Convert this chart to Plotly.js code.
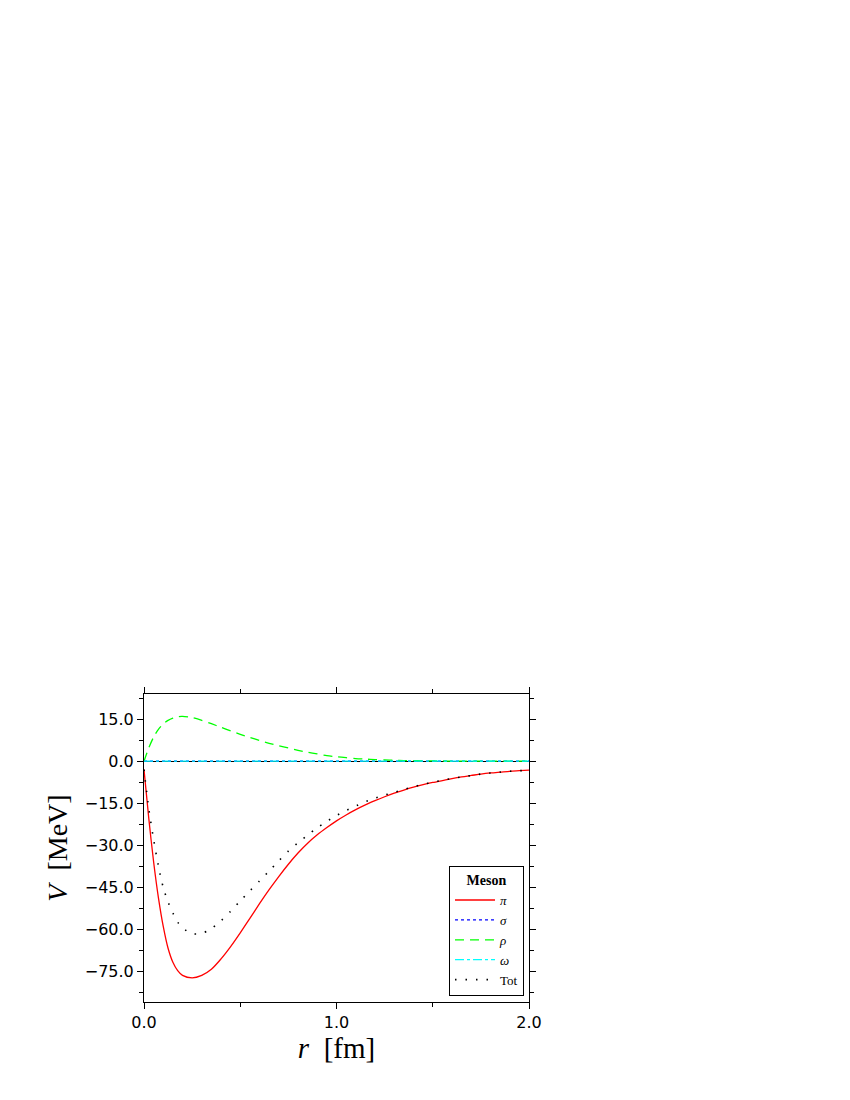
<!DOCTYPE html>
<html>
<head>
<meta charset="utf-8">
<script src="https://cdn.plot.ly/plotly-3.0.1.min.js"></script>
<style>
  body { margin: 0; background: #fff; }
  #plot { width: 850px; height: 1100px; }
</style>
</head>
<body>
<div id="plot"></div>
<script>
// r grid [fm] and potentials [MeV]
let r = [0, 0.025, 0.05, 0.075, 0.1, 0.125, 0.15, 0.175, 0.2,
         0.25, 0.3, 0.35, 0.4, 0.45, 0.5, 0.55, 0.6, 0.65, 0.7, 0.75, 0.8, 0.85, 0.9, 0.95, 1.0,
         1.05, 1.1, 1.15, 1.2, 1.25, 1.3, 1.35, 1.4, 1.45, 1.5, 1.55, 1.6, 1.65, 1.7, 1.75, 1.8,
         1.85, 1.9, 1.95, 2.0];

let vPi = [-3.0, -20.5, -36.0, -48.8, -59.0, -66.8, -71.8, -74.8, -76.5,
           -77.4, -76.5, -74.3, -70.6, -66.2, -61.3, -56.1, -50.9, -45.9, -41.2, -36.8, -32.8, -29.3, -26.3, -23.7, -21.3,
           -19.2, -17.3, -15.6, -14.1, -12.7, -11.4, -10.3, -9.3, -8.4, -7.6, -6.9, -6.2, -5.6, -5.1, -4.6, -4.2,
           -3.9, -3.6, -3.4, -3.2];

let vSigma = [0, 0, 0, 0, 0, 0, 0, 0, 0,
              0, 0, 0, 0, 0, 0, 0, 0, 0, 0, 0, 0, 0, 0, 0, 0,
              0, 0, 0, 0, 0, 0, 0, 0, 0, 0, 0, 0, 0, 0, 0, 0,
              0, 0, 0, 0];

let vRho = [0, 4.8, 8.6, 11.4, 13.3, 14.6, 15.4, 15.9, 16.0,
            15.6, 14.6, 13.4, 12.1, 10.8, 9.6, 8.5, 7.4, 6.4, 5.5, 4.7, 3.9, 3.2, 2.6, 2.0, 1.6,
            1.25, 0.95, 0.75, 0.55, 0.42, 0.32, 0.24, 0.18, 0.13, 0.1, 0.07, 0.05, 0.04, 0.03, 0.02, 0.015,
            0.01, 0.01, 0.005, 0];

let vOmega = [0, 0, 0, 0, 0, 0, 0, 0, 0,
              0, 0, 0, 0, 0, 0, 0, 0, 0, 0, 0, 0, 0, 0, 0, 0,
              0, 0, 0, 0, 0, 0, 0, 0, 0, 0, 0, 0, 0, 0, 0, 0,
              0, 0, 0, 0];

let vTot = [-3.0, -17.0, -28.0, -37.5, -45.1, -50.3, -54.2, -57.5, -59.5,
            -61.6, -61.5, -59.8, -57.0, -53.6, -49.9, -46.3, -42.8, -39.2, -35.6, -32.1, -29.1, -26.4, -23.8, -21.5, -19.4,
            -17.6, -16.0, -14.5, -13.2, -12.1, -11.1, -10.1, -9.1, -8.3, -7.5, -6.8, -6.15, -5.6, -5.1, -4.6, -4.2,
            -3.9, -3.6, -3.4, -3.2];

let names = ['<i>π</i>', '<i>σ</i>', '<i>ρ</i>', '<i>ω</i>', 'Tot'];

let serif = 'Liberation Serif, DejaVu Serif, serif';
let sans = 'DejaVu Sans, Liberation Sans, sans-serif';

let data = [
  { x: r, y: vPi, name: names[0], mode: 'lines',
    line: { color: '#ff0000', width: 1.3, shape: 'spline', smoothing: 0.8 } },
  { x: r, y: vSigma, name: names[1], mode: 'lines',
    line: { color: '#0000ff', width: 1.3, dash: 'dot' } },
  { x: r, y: vRho, name: names[2], mode: 'lines',
    line: { color: '#00ff00', width: 1.3, dash: '9px,6px', shape: 'spline', smoothing: 0.8 } },
  { x: r, y: vOmega, name: names[3], mode: 'lines',
    line: { color: '#00ffff', width: 1.3, dash: 'dashdot' } },
  { x: r, y: vTot, name: names[4], mode: 'lines',
    line: { color: '#000000', width: 1.6, dash: '1.5px,9px', shape: 'spline', smoothing: 0.8 } }
];

let layout = {
  width: 850,
  height: 1100,
  paper_bgcolor: '#fff',
  plot_bgcolor: '#fff',
  margin: { l: 144, r: 321, t: 694, b: 98 },
  showlegend: true,
  legend: {
    x: 0.987, y: 0.02, xanchor: 'right', yanchor: 'bottom',
    bgcolor: '#fff', bordercolor: '#000', borderwidth: 1,
    font: { family: serif, size: 13, color: '#000' },
    title: { text: '<b>Meson</b>', side: 'top center', font: { family: serif, size: 14 } },
    itemwidth: 40,
    tracegroupgap: 0
  },
  xaxis: {
    range: [0, 2], dtick: 1, tickformat: '.1f',
    ticks: 'outside', ticklen: 6, tickcolor: '#000',
    minor: { dtick: 0.5, ticks: 'outside', ticklen: 4, tickcolor: '#000' },
    showline: true, linecolor: '#000', linewidth: 1, mirror: 'ticks',
    showgrid: false, zeroline: false,
    tickfont: { family: sans, size: 16, color: '#000' },
    title: { text: '<i>r</i>\u00a0 [fm]', standoff: 1, font: { family: serif, size: 29, color: '#000' } }
  },
  yaxis: {
    range: [-86, 24], dtick: 15, tickformat: '.1f',
    ticks: 'outside', ticklen: 6, tickcolor: '#000',
    minor: { dtick: 7.5, ticks: 'outside', ticklen: 4, tickcolor: '#000' },
    showline: true, linecolor: '#000', linewidth: 1, mirror: 'ticks',
    showgrid: false, zeroline: true, zerolinecolor: '#000', zerolinewidth: 1,
    tickfont: { family: sans, size: 16, color: '#000' },
    title: { text: '<i>V</i>\u00a0 [MeV]', standoff: 8, font: { family: serif, size: 28, color: '#000' } }
  }
};

Plotly.newPlot('plot', data, layout, { displayModeBar: false, staticPlot: true });
</script>
</body>
</html>
